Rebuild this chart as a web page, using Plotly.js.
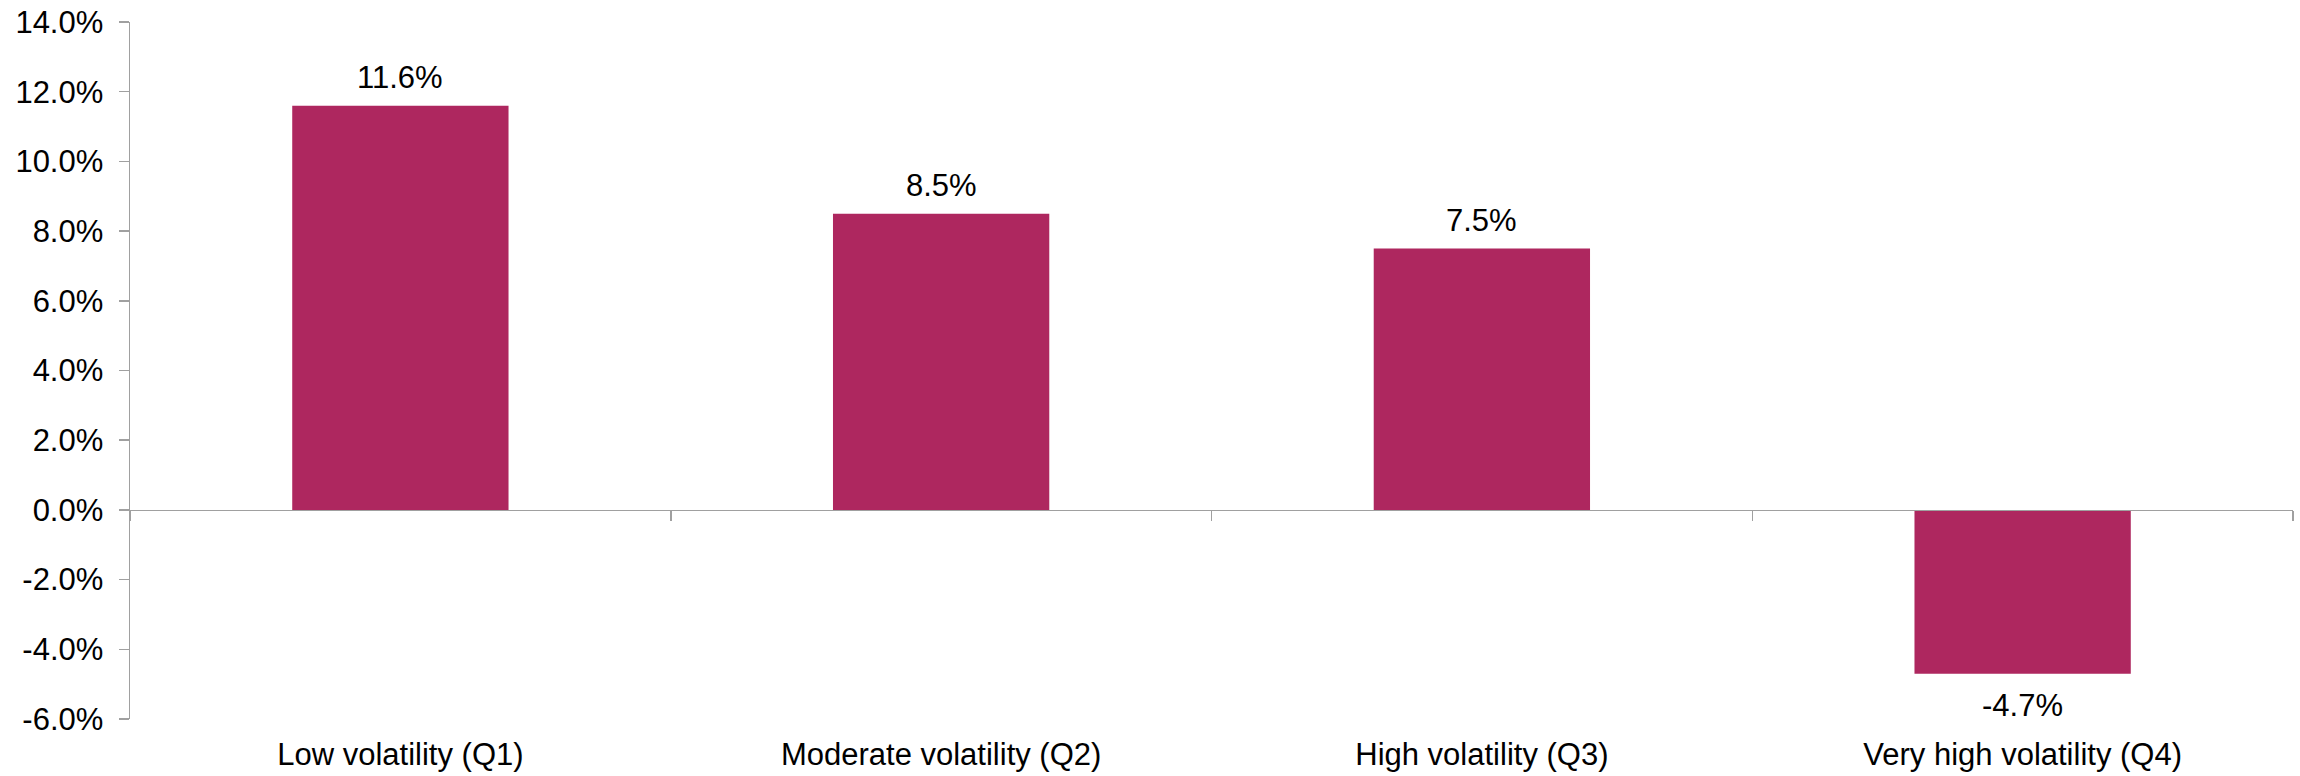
<!DOCTYPE html>
<html>
<head>
<meta charset="utf-8">
<script src="https://cdn.plot.ly/plotly-3.0.1.min.js"></script>
<style>
  html, body { margin: 0; padding: 0; background: #ffffff; }
  #chart { width: 2300px; height: 776px; }
</style>
</head>
<body>
<div id="chart"></div>
<script>
const categories = ["Low volatility (Q1)", "Moderate volatility (Q2)", "High volatility (Q3)", "Very high volatility (Q4)"];
const returns = [11.6, 8.5, 7.5, -4.7];
const yTicks = [-6, -4, -2, 0, 2, 4, 6, 8, 10, 12, 14];

const barColor = "#AE275F";
const axisGray = "#A0A0A0";
const fontFamily = "'Liberation Sans', Arial, sans-serif";

const pct = v => v.toFixed(1) + "%";
const yTickText = yTicks.map(pct);

const bars = {
  type: "bar",
  x: categories,
  y: returns,
  xaxis: "x",
  yaxis: "y",
  marker: { color: barColor, line: { width: 0 } },
  hoverinfo: "skip",
  showlegend: false
};

// helper trace so the zero-line category axis (with boundary ticks) is drawn
const zeroAxisHelper = {
  type: "scatter",
  mode: "none",
  x: categories,
  y: returns,
  xaxis: "x2",
  yaxis: "y",
  hoverinfo: "skip",
  showlegend: false
};

const valueLabels = categories.map((c, i) => {
  const v = returns[i];
  const pos = v >= 0;
  return {
    x: c,
    y: v,
    xref: "x",
    yref: "y",
    text: pct(v),
    showarrow: false,
    xanchor: "center",
    yanchor: pos ? "bottom" : "top",
    yshift: pos ? 9 : -12,
    font: { family: fontFamily, size: 31, color: "#000000" }
  };
});

const layout = {
  width: 2300,
  height: 776,
  margin: { l: 130, r: 7, t: 22, b: 57 },
  paper_bgcolor: "#ffffff",
  plot_bgcolor: "#ffffff",
  font: { family: fontFamily, size: 31, color: "#000000" },
  bargap: 0.6,
  showlegend: false,
  annotations: valueLabels,
  xaxis: {
    type: "category",
    categoryorder: "array",
    categoryarray: categories,
    range: [-0.5, 3.5],
    showline: false,
    showgrid: false,
    zeroline: false,
    ticks: "",
    ticklabelstandoff: 14,
    tickfont: { family: fontFamily, size: 31, color: "#000000" },
    fixedrange: true
  },
  xaxis2: {
    type: "category",
    categoryorder: "array",
    categoryarray: categories,
    range: [-0.5, 3.5],
    overlaying: "x",
    anchor: "free",
    position: 6 / 20,
    side: "bottom",
    showline: true,
    linecolor: axisGray,
    linewidth: 1.5,
    ticks: "outside",
    tickson: "boundaries",
    ticklen: 10,
    tickwidth: 1.5,
    tickcolor: axisGray,
    showticklabels: false,
    showgrid: false,
    zeroline: false,
    fixedrange: true
  },
  yaxis: {
    range: [-6, 14],
    tickmode: "array",
    tickvals: yTicks,
    ticktext: yTickText,
    showline: true,
    linecolor: axisGray,
    linewidth: 1.5,
    ticks: "outside",
    ticklen: 10,
    tickwidth: 1.5,
    tickcolor: axisGray,
    showgrid: false,
    zeroline: false,
    ticklabelstandoff: 9,
    tickfont: { family: fontFamily, size: 31, color: "#000000" },
    fixedrange: true
  }
};

Plotly.newPlot("chart", [bars, zeroAxisHelper], layout, { displayModeBar: false, staticPlot: true });
</script>
</body>
</html>
